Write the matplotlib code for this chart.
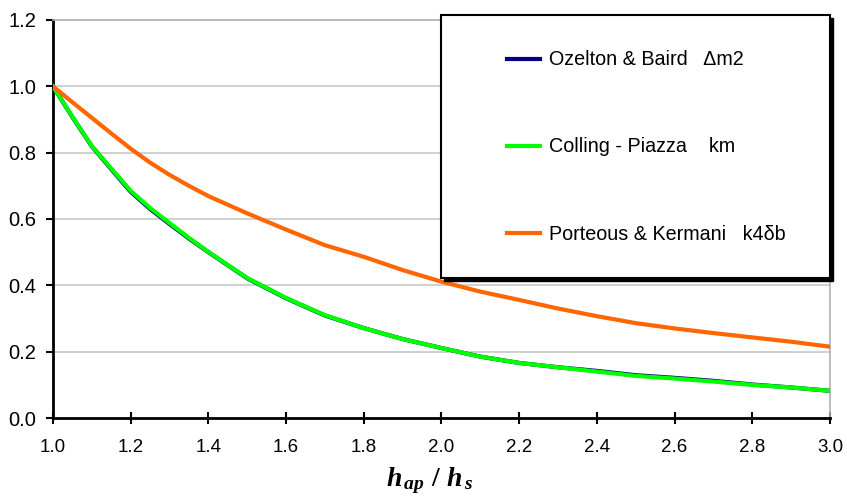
import matplotlib
matplotlib.use('Agg')
import matplotlib.pyplot as plt
from matplotlib.patches import Rectangle
import numpy as np

# ratio h_ap / h_s
x = [1.0, 1.05, 1.1, 1.15, 1.2, 1.25, 1.3, 1.35, 1.4, 1.5, 1.6, 1.7, 1.8, 1.9, 2.0,
     2.1, 2.2, 2.3, 2.4, 2.5, 2.6, 2.7, 2.8, 2.9, 3.0]

ozelton = [1.0, 0.907, 0.819, 0.750, 0.682, 0.630, 0.585, 0.541, 0.500, 0.421, 0.361, 0.309,
           0.271, 0.238, 0.211, 0.185, 0.166, 0.153, 0.142, 0.129, 0.121, 0.112, 0.101, 0.092, 0.082]
colling = [1.0, 0.908, 0.820, 0.752, 0.685, 0.633, 0.588, 0.543, 0.501, 0.422, 0.362, 0.310,
           0.271, 0.238, 0.211, 0.185, 0.166, 0.153, 0.140, 0.127, 0.119, 0.110, 0.100, 0.092, 0.082]
porteous = [1.0, 0.952, 0.905, 0.858, 0.812, 0.770, 0.733, 0.700, 0.669, 0.617, 0.568, 0.521,
            0.486, 0.446, 0.411, 0.381, 0.356, 0.330, 0.307, 0.286, 0.270, 0.256, 0.243, 0.230, 0.215]

labels = ['Ozelton & Baird   \u0394m2', 'Colling - Piazza    km', 'Porteous & Kermani   k4\u03b4b']
colors = ['#000080', '#00ff00', '#ff6600']

plt.rcParams['font.family'] = ['Liberation Sans', 'DejaVu Sans']
plt.rcParams['mathtext.fontset'] = 'custom'
plt.rcParams['mathtext.it'] = 'Liberation Serif:italic:bold'
plt.rcParams['mathtext.rm'] = 'Liberation Serif:bold'

fig = plt.figure(figsize=(8.47, 5), dpi=100)
ax = fig.add_axes([53/847, 82/500, 777/847, 398/500])

ax.plot(x, ozelton, color=colors[0], lw=3, label=labels[0], zorder=3)
ax.plot(x, colling, color=colors[1], lw=3, label=labels[1], zorder=4)
ax.plot(x, porteous, color=colors[2], lw=3, label=labels[2], zorder=4)

ax.set_xlim(1.0, 3.0)
ax.set_ylim(0.0, 1.2)
ax.set_xticks(np.arange(1.0, 3.01, 0.2))
ax.set_yticks(np.arange(0.0, 1.21, 0.2))
ax.set_xticklabels(['%.1f' % v for v in np.arange(1.0, 3.01, 0.2)])
ax.set_yticklabels(['%.1f' % v for v in np.arange(0.0, 1.21, 0.2)])
ax.yaxis.grid(True, color='#c8c8c8', lw=1.2)
ax.set_axisbelow(True)

for s in ['left', 'bottom']:
    ax.spines[s].set_linewidth(2)
    ax.spines[s].set_color('black')
for s in ['top', 'right']:
    ax.spines[s].set_linewidth(1.2)
    ax.spines[s].set_color('#b0b0b0')

ax.tick_params(axis='y', direction='out', length=5, width=1.5, labelsize=14.5, pad=7)
ax.tick_params(axis='x', direction='inout', length=8, width=1.5, labelsize=13.5, pad=11)

fig.text(430/847, 1 - 481/500, r'$h_{\,ap}\ /\ h_{\,s}$', fontsize=20, ha='center', va='center')

# legend frame with shadow
x0, y0, w, h = 441/847, (500-278)/500, 389/847, 263/500
fig.add_artist(Rectangle((x0 + 3/847, y0 - 3/500), w, h, transform=fig.transFigure,
                         facecolor='black', edgecolor='black', zorder=5))
fig.add_artist(Rectangle((x0, y0), w, h, transform=fig.transFigure,
                         facecolor='white', edgecolor='black', lw=1.5, zorder=6))

leg = fig.legend(loc='center left', bbox_to_anchor=(497/847, 1 - 147/500), frameon=False,
                 fontsize=14.2, handlelength=1.68, handletextpad=0.45, labelspacing=3.45,
                 borderpad=0)
leg.set_zorder(7)
for line in leg.get_lines():
    line.set_linewidth(3)

fig.savefig('out.png', dpi=100)
